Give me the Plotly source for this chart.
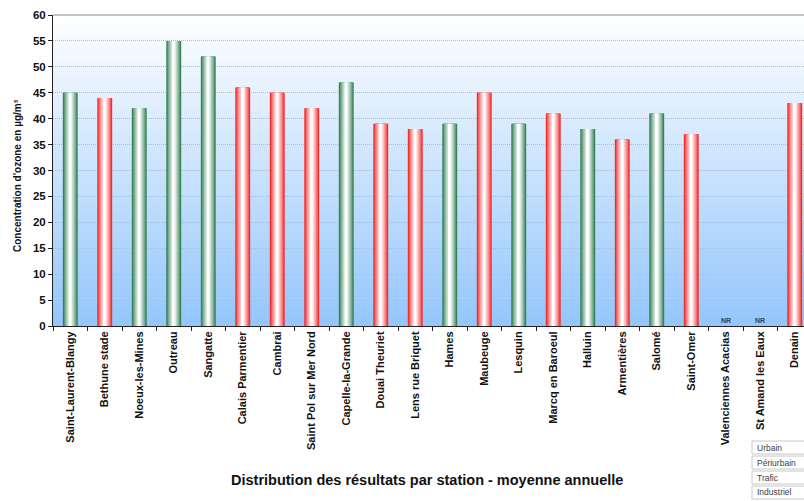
import plotly.graph_objects as go

# Annual mean ozone concentration per monitoring station (µg/m³); None = not reported
stations = [
    "Saint-Laurent-Blangy", "Bethune stade", "Noeux-les-Mines", "Outreau", "Sangatte",
    "Calais Parmentier", "Cambrai", "Saint Pol sur Mer Nord", "Capelle-la-Grande",
    "Douai Theuriet", "Lens rue Briquet", "Hames", "Maubeuge", "Lesquin",
    "Marcq en Baroeul", "Halluin", "Armentières", "Salomé", "Saint-Omer",
    "Valenciennes Acacias", "St Amand les Eaux", "Denain",
]
values = [45, 44, 42, 55, 52, 46, 45, 42, 47, 39, 38, 39, 45, 39, 41, 38, 36, 41, 37,
          None, None, 43]
station_type = ["P", "U", "P", "P", "P", "U", "U", "U", "P", "U", "U", "P", "U", "P",
                "U", "P", "U", "P", "U", "U", "U", "U"]
legend_rows = ["Urbain", "Périurbain", "Trafic", "Industriel"]

FONT = "Liberation Sans, Arial, sans-serif"
W, H = 804, 501
ML, MR, MT, MB = 53, 0, 15, 175
PW, PH = W - ML - MR, H - MT - MB

def px_x(px):
    return (px - ML) / PW

def px_y(py):
    return (MT + PH - py) / PH

def mix(c1, c2, t):
    return "rgb({},{},{})".format(*[round(a + (b - a) * t) for a, b in zip(c1, c2)])

WHITE = (255, 255, 255)
edge_colors = {"P": (40, 122, 74), "U": (245, 30, 30)}

fig = go.Figure()

# cylinder-like shading: stacked overlaid bars, narrowing toward a white core
full_w = 0.43
steps = 9
for kind in ["P", "U"]:
    ys = [v if t == kind else None for v, t in zip(values, station_type)]
    for k in range(steps):
        t = k / (steps - 1)
        fig.add_trace(go.Bar(
            x=stations, y=ys,
            width=full_w * (1 - k / steps),
            marker=dict(color=mix(edge_colors[kind], WHITE, t ** 0.8), line=dict(width=0)),
            showlegend=False, hoverinfo="skip" if k else "x+y",
        ))

# "NR" markers for stations without a result
for s, v in zip(stations, values):
    if v is None:
        fig.add_annotation(x=s, y=0, text="<b>NR</b>", showarrow=False, yanchor="bottom",
                           yshift=0, font=dict(family=FONT, size=7, color="#2b3f66"))

shapes = []
# vertical background gradient of the plot area
bands = 80
top_c, bot_c = (255, 255, 255), (148, 198, 252)
for i in range(bands):
    shapes.append(dict(type="rect", xref="x domain", yref="y domain",
                       x0=0, x1=1, y0=i / bands, y1=(i + 1) / bands + 0.002,
                       fillcolor=mix(bot_c, top_c, (i + 0.5) / bands),
                       line=dict(width=0), layer="below"))
# solid top border line
shapes.append(dict(type="line", xref="x domain", yref="y domain", x0=0, x1=1, y0=1, y1=1,
                   line=dict(color="#b0b0b0", width=1.5), layer="below"))

# station type table
row_top = 441
for i, name in enumerate(legend_rows):
    y0 = row_top + i * 15
    shapes.append(dict(type="rect", xref="paper", yref="paper",
                       x0=px_x(752), x1=px_x(810), y0=px_y(y0 + 13), y1=px_y(y0),
                       line=dict(color="#c8c8c8", width=1), fillcolor="white"))
    fig.add_annotation(xref="paper", yref="paper", x=px_x(755), y=px_y(y0 + 6.5),
                       text=name, showarrow=False, xanchor="left", yanchor="middle",
                       font=dict(family=FONT, size=8.5, color="#404040"))

fig.add_annotation(xref="paper", yref="paper", x=px_x(427), y=px_y(480),
                   text="<b>Distribution des résultats par station - moyenne annuelle</b>",
                   showarrow=False, xanchor="center", yanchor="middle",
                   font=dict(family=FONT, size=14.5, color="#111111"))
fig.add_annotation(xref="paper", yref="paper", x=px_x(18), y=px_y(176),
                   text="<b>Concentration d'ozone en µg/m³</b>", textangle=-90,
                   showarrow=False, xanchor="center", yanchor="middle",
                   font=dict(family=FONT, size=10, color="#111111"))

fig.update_layout(
    width=W, height=H,
    margin=dict(l=ML, r=MR, t=MT, b=MB, pad=0),
    paper_bgcolor="white", plot_bgcolor="white",
    barmode="overlay", showlegend=False,
    shapes=shapes,
    font=dict(family=FONT, color="#111111"),
)
fig.update_xaxes(
    type="category", categoryorder="array", categoryarray=stations,
    range=[-0.5, (PW / 34.5) - 0.5],
    tickangle=-90, tickfont=dict(family=FONT, size=11, color="#111111"),
    tickprefix="<b>", ticksuffix="</b>",
    ticks="outside", ticklen=4, tickcolor="#222222", tickson="boundaries",
    showline=True, linecolor="#222222", linewidth=1, showgrid=False,
)
fig.update_yaxes(
    range=[0, 60], dtick=5, tickfont=dict(family=FONT, size=11.5, color="#111111"),
    tickprefix="<b>", ticksuffix="</b>",
    ticks="outside", ticklen=4, tickcolor="#222222",
    showline=True, linecolor="#222222", linewidth=1,
    showgrid=True, gridcolor="#bababa", griddash="1px,1px", gridwidth=1,
    zeroline=False,
)

fig.write_html("out.html")
